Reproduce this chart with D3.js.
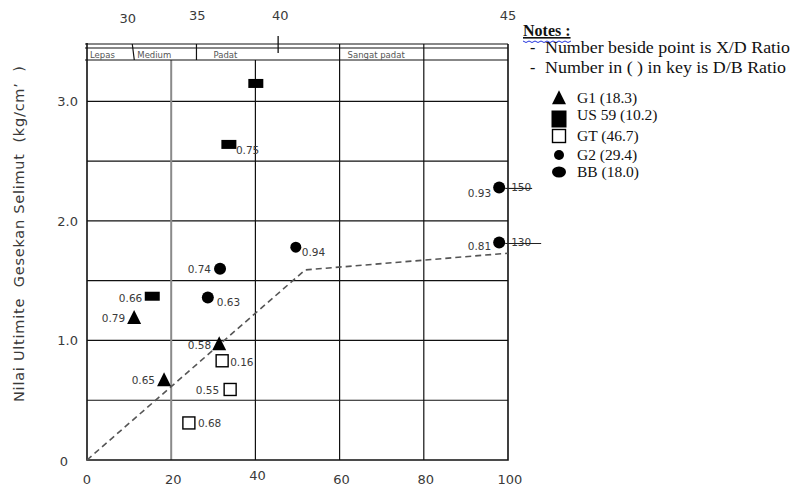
<!DOCTYPE html>
<html>
<head>
  <meta charset="UTF-8">
  <title>Nilai Ultimite Gesekan Selimut</title>
  <script src="https://d3js.org/d3.v7.min.js"></script>
  <style>
    body { margin: 0; background: #fff; }
    svg text { font-family: "DejaVu Sans", Verdana, sans-serif; }
    .serif { font-family: "Liberation Serif", "Times New Roman", serif !important; }
  </style>
</head>
<body>
<svg id="chart"></svg>
<script>
// ---- data ----
const xTicks = [0, 20, 40, 60, 80, 100];
const yTicks = [0, 1, 2, 3];
const yTickLabels = ["0", "1.0", "2.0", "3.0"];
const yGrid = [0.5, 1, 1.5, 2, 2.5, 3];

// top axis: friction angle and the relative density it sits at
const phiTicks = [30, 35, 40, 45];
const phiDr = [9.7, 26.2, 45.9, 100];

// density classes band
const bandNames = ["Lepas", "Medium", "Padat", "Sangat padat", ""];
const bandEdges = [0, 11, 26, 60, 80, 100];

// series
const g1X = [11.2, 18.3, 31.4];
const g1Y = [1.19, 0.67, 0.97];
const g1Lab = ["0.79", "0.65", "0.58"];

const us59X = [15.5, 33.7, 40.1];
const us59Y = [1.37, 2.64, 3.15];
const us59Lab = ["0.66", "0.75", ""];

const gtX = [32.1, 34.0, 24.2];
const gtY = [0.83, 0.59, 0.31];
const gtLab = ["0.16", "0.55", "0.68"];

const g2X = [49.6];
const g2Y = [1.78];
const g2Lab = ["0.94"];

const bbX = [31.6, 28.7, 97.9, 97.9];
const bbY = [1.60, 1.36, 2.28, 1.82];
const bbLab = ["0.74", "0.63", "0.93", "0.81"];
const bbExtraLab = ["", "", "150", "130"]; // struck-through numbers right of the BB points

// dashed trend
const trendX = [0, 51.8, 100];
const trendY = [0, 1.59, 1.73];

const legendNames = ["G1 (18.3)", "US 59 (10.2)", "GT (46.7)", "G2 (29.4)", "BB (18.0)"];
const noteLines = ["Number beside point is X/D Ratio", "Number in ( ) in key is D/B Ratio"];

// ---- drawing ----
const width = 792, height = 487;
const svg = d3.select("#chart").attr("width", width).attr("height", height);

const x = d3.scaleLinear().domain([0, 100]).range([87, 508]);
const y = d3.scaleLinear().domain([0, 3.48]).range([460, 44]);
const bandTop = 44, bandMid = 48, bandBot = 60;
const ink = "#111", txt = "#3a3a3a";

// horizontal grid
svg.append("g").selectAll("line").data(yGrid).enter().append("line")
  .attr("x1", x(0)).attr("x2", x(100))
  .attr("y1", d => y(d)).attr("y2", d => y(d))
  .attr("stroke", ink).attr("stroke-width", 1.2);

// vertical grid
svg.append("g").selectAll("line").data(xTicks.slice(1, -1)).enter().append("line")
  .attr("x1", d => x(d)).attr("x2", d => x(d))
  .attr("y1", bandBot).attr("y2", y(0))
  .attr("stroke", d => d === 20 ? "#8a8a8a" : ink)
  .attr("stroke-width", d => d === 20 ? 2 : 1.2);

// band
[bandTop, bandMid, bandBot].forEach(v => {
  svg.append("line").attr("x1", x(0) - 2).attr("x2", x(100))
    .attr("y1", v).attr("y2", v).attr("stroke", ink).attr("stroke-width", 1.2);
});
svg.append("g").selectAll("line").data(bandEdges.slice(1, -1)).enter().append("line")
  .attr("x1", (d, i) => i === 0 ? x(d) - 1 : x(d))
  .attr("x2", (d, i) => i === 0 ? x(d) + 1 : x(d))
  .attr("y1", bandTop).attr("y2", bandBot)
  .attr("stroke", ink).attr("stroke-width", 1.2);
const bandTextX = [x(0) + 3, x(11) + 4, x(26) + 17, x(60) + 8];
svg.append("g").selectAll("text").data(bandNames.slice(0, 4)).enter().append("text")
  .attr("x", (d, i) => bandTextX[i]).attr("y", 57.5)
  .attr("font-size", 8.5).attr("fill", "#555").text(d => d);

// border
svg.append("path")
  .attr("d", `M${x(0)},${bandTop - 1}V${y(0)}H${x(100)}V${bandTop}`)
  .attr("fill", "none").attr("stroke", ink).attr("stroke-width", 1.6);

// top axis
svg.append("g").selectAll("text").data(phiTicks).enter().append("text")
  .attr("x", (d, i) => x(phiDr[i]))
  .attr("y", d => d === 30 ? 23 : 20)
  .attr("text-anchor", "middle").attr("font-size", 13).attr("fill", txt)
  .text(d => d);
svg.append("line").attr("x1", x(45.4)).attr("x2", x(45.4))
  .attr("y1", 36).attr("y2", 53).attr("stroke", ink).attr("stroke-width", 1.3);

// x tick labels
svg.append("g").selectAll("text").data(xTicks).enter().append("text")
  .attr("x", d => x(d) + (d === 0 ? 0 : 2))
  .attr("y", d => d === 40 ? 480 : 484)
  .attr("text-anchor", "middle").attr("font-size", 13).attr("fill", txt)
  .text(d => d);

// y tick labels
svg.append("g").selectAll("text").data(yTicks).enter().append("text")
  .attr("x", d => d === 0 ? 68 : 78)
  .attr("y", d => y(d) + (d === 0 ? 6 : 5))
  .attr("text-anchor", "end").attr("font-size", 13).attr("fill", txt)
  .text((d, i) => yTickLabels[i]);

// y title
svg.append("text")
  .attr("transform", "translate(24,234) rotate(-90)")
  .attr("text-anchor", "middle").attr("font-size", 14.5).attr("fill", txt)
  .attr("textLength", 336).attr("lengthAdjust", "spacing")
  .style("white-space", "pre")
  .text("Nilai Ultimite  Gesekan Selimut  (kg/cm\u2019  )");

// trend line
svg.append("path")
  .datum(trendX.map((d, i) => [d, trendY[i]]))
  .attr("d", d3.line().x(d => x(d[0])).y(d => y(d[1])))
  .attr("fill", "none").attr("stroke", "#555").attr("stroke-width", 1.6)
  .attr("stroke-dasharray", "6,4");

// marker shapes
function triangle(g, s) {
  g.append("path").attr("d", `M0,${-s * 0.55}L${s / 2},${s * 0.45}L${-s / 2},${s * 0.45}Z`).attr("fill", "#000");
}
function bar(g, w, h) {
  g.append("rect").attr("x", -w / 2).attr("y", -h / 2).attr("width", w).attr("height", h).attr("fill", "#000");
}
function box(g, s) {
  g.append("rect").attr("x", -s / 2).attr("y", -s / 2).attr("width", s).attr("height", s)
    .attr("fill", "#fff").attr("stroke", "#000").attr("stroke-width", 1.4);
}
function hexa(g, r) {
  g.append("path").attr("d", d3.symbol().type(d3.symbolCircle).size(Math.PI * r * r)).attr("fill", "#000");
}
function dot(g, rx, ry) {
  g.append("ellipse").attr("rx", rx).attr("ry", ry).attr("fill", "#000");
}

const series = [
  {xs: g1X, ys: g1Y, lab: g1Lab, draw: g => triangle(g, 14)},
  {xs: us59X, ys: us59Y, lab: us59Lab, draw: g => bar(g, 15, 9)},
  {xs: gtX, ys: gtY, lab: gtLab, draw: g => box(g, 12)},
  {xs: g2X, ys: g2Y, lab: g2Lab, draw: g => hexa(g, 5.5)},
  {xs: bbX, ys: bbY, lab: bbLab, draw: g => dot(g, 6, 6)}
];

// where each X/D label sits relative to its point: [dx, dy, anchor]
const labelPos = {
  "0.79": [-9, 4, "end"], "0.65": [-9, 4, "end"], "0.58": [-8, 5, "end"],
  "0.66": [-10, 6, "end"], "0.75": [7, 10, "start"],
  "0.16": [8, 5, "start"], "0.55": [-11, 5, "end"], "0.68": [9, 4, "start"],
  "0.94": [6, 9, "start"],
  "0.74": [-9, 4, "end"], "0.63": [9, 9, "start"], "0.93": [-8, 10, "end"], "0.81": [-8, 8, "end"]
};

series.forEach(s => {
  s.xs.forEach((xv, i) => {
    const g = svg.append("g").attr("transform", `translate(${x(xv)},${y(s.ys[i])})`);
    s.draw(g);
    const l = s.lab[i];
    if (l) {
      const p = labelPos[l];
      g.append("text").attr("x", p[0]).attr("y", p[1]).attr("text-anchor", p[2])
        .attr("font-size", 10.5).attr("fill", txt).text(l);
    }
  });
});

// struck-through numbers right of the BB points at 100
bbX.forEach((xv, i) => {
  const l = bbExtraLab[i];
  if (!l) return;
  const cy = y(bbY[i]);
  svg.append("text").attr("x", x(xv) + 12).attr("y", cy + 4)
    .attr("font-size", 10.5).attr("fill", txt).text(l);
  svg.append("line").attr("x1", x(xv) + 6).attr("x2", x(xv) + (l === "130" ? 42 : 33))
    .attr("y1", cy + 1).attr("y2", cy + 1).attr("stroke", "#222").attr("stroke-width", 1.1);
});

// notes
const notes = svg.append("g");
notes.append("text").attr("class", "serif").attr("x", 523).attr("y", 36)
  .attr("font-size", 16).attr("font-weight", "bold").attr("fill", "#111")
  .style("text-decoration", "underline").text("Notes :");
notes.append("path")
  .attr("d", d3.range(0, 49, 3).map((d, i) => (i ? "L" : "M") + (523 + d) + "," + (41 + (i % 2 ? 1.5 : 0))).join(""))
  .attr("fill", "none").attr("stroke", "#2233dd").attr("stroke-width", 1);
const noteLen = [245, 241];
noteLines.forEach((t, i) => {
  notes.append("text").attr("class", "serif").attr("x", 530).attr("y", 53 + i * 20)
    .attr("font-size", 16).attr("fill", "#111").text("-");
  notes.append("text").attr("class", "serif").attr("x", 545).attr("y", 53 + i * 20)
    .attr("font-size", 16).attr("fill", "#111")
    .attr("textLength", noteLen[i]).attr("lengthAdjust", "spacingAndGlyphs").text(t);
});

// legend
const legY = [98, 115, 136, 155, 172];
const legDraw = [
  g => triangle(g, 14),
  g => bar(g, 15, 17),
  g => box(g, 13),
  g => hexa(g, 5),
  g => dot(g, 7, 5.5)
];
legendNames.forEach((n, i) => {
  const g = svg.append("g").attr("transform", `translate(559,${legY[i] + (i === 1 ? 4 : 0)})`);
  legDraw[i](g);
  svg.append("text").attr("class", "serif").attr("x", 577).attr("y", legY[i] + 5)
    .attr("font-size", 15.5).attr("fill", "#111").text(n);
});
</script>
</body>
</html>
